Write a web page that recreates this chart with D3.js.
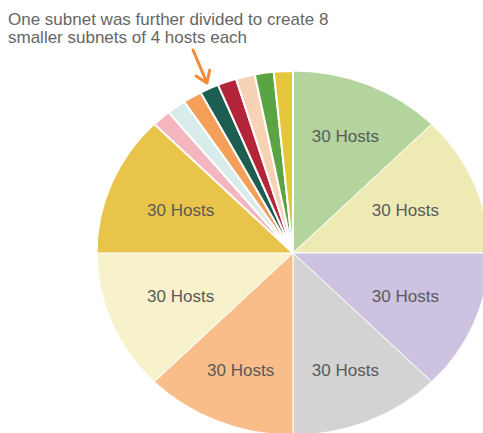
<!DOCTYPE html>
<html lang="en">
<head>
  <meta charset="UTF-8" />
  <title>Subnet division</title>
  <script src="https://d3js.org/d3.v7.min.js"></script>
  <style>
    body { margin: 0; background: #fff; font-family: Arial, "Liberation Sans", sans-serif; }
    .note { font-size: 17px; fill: #666; }
    .slice-label { font-size: 17px; fill: #5a5a5a; }
  </style>
</head>
<body>
<svg width="483" height="433"></svg>

<script>
  // subnets, clockwise from 12 o'clock (block size in addresses)
  const subnetLabels = ["30 Hosts", "30 Hosts", "30 Hosts", "30 Hosts", "30 Hosts", "30 Hosts", "30 Hosts",
                        "4 Hosts", "4 Hosts", "4 Hosts", "4 Hosts", "4 Hosts", "4 Hosts", "4 Hosts", "4 Hosts"];
  const subnetSizes = [32, 32, 32, 32, 32, 32, 32, 4, 4, 4, 4, 4, 4, 4, 4];
  const subnetColors = ["#b3d49c", "#eeeab3", "#cdc2df", "#d3d3d3", "#f8bd89", "#f7f2cb", "#e8c54a",
                        "#f4b5bf", "#d8ecec", "#f4a05a", "#1d5e52", "#b4253a", "#f8d2b5", "#5aa444", "#e6c63c"];
  const noteLines = ["One subnet was further divided to create 8", "smaller subnets of 4 hosts each"];

  const svg = d3.select("svg");
  const cx = 293, cy = 253, r = 182, sx = 1.077; // pie is a bit wider than tall

  const data = subnetLabels.map((d, i) => ({ label: d, size: subnetSizes[i], color: subnetColors[i] }));

  const pie = d3.pie().sort(null).value(d => d.size);
  const arc = d3.arc().innerRadius(0).outerRadius(r);
  const arcs = pie(data);

  const g = svg.append("g").attr("transform", `translate(${cx},${cy}) scale(${sx},1)`);
  g.selectAll("path")
    .data(arcs)
    .enter().append("path")
    .attr("d", arc)
    .attr("fill", d => d.data.color)
    .attr("stroke", "#fff")
    .attr("stroke-width", d => d.data.size < 32 ? 2 : 1)
    .attr("vector-effect", "non-scaling-stroke");

  // labels only on the big subnets
  const labelPos = d => {
    const a = (d.startAngle + d.endAngle) / 2;
    const rr = 110 + 20 * Math.cos(a) * Math.cos(a);
    return [Math.sin(a) * rr * sx, -Math.cos(a) * rr];
  };
  const lg = svg.append("g").attr("transform", `translate(${cx},${cy})`);
  arcs.filter(d => d.data.size === 32).forEach(d => {
    const p = labelPos(d);
    lg.append("text")
      .attr("class", "slice-label")
      .attr("x", p[0])
      .attr("y", p[1])
      .attr("dy", "0.35em")
      .attr("text-anchor", "middle")
      .text(d.data.label);
  });

  // note
  const ng = svg.append("g");
  noteLines.forEach((t, i) => {
    ng.append("text")
      .attr("class", "note")
      .attr("x", 8)
      .attr("y", 25 + i * 18)
      .text(t);
  });

  // arrow
  const tip = [207, 83], tail = [193, 50];
  const ang = Math.atan2(tip[1] - tail[1], tip[0] - tail[0]);
  const wing = 13, spread = 0.6;
  const w1 = [tip[0] - wing * Math.cos(ang - spread), tip[1] - wing * Math.sin(ang - spread)];
  const w2 = [tip[0] - wing * Math.cos(ang + spread), tip[1] - wing * Math.sin(ang + spread)];
  svg.append("path")
    .attr("d", d3.line()([tail, tip]) + d3.line()([w1, tip, w2]))
    .attr("fill", "none")
    .attr("stroke", "#f28a36")
    .attr("stroke-width", 3)
    .attr("stroke-linecap", "round")
    .attr("stroke-linejoin", "round");
</script>
</body>
</html>
